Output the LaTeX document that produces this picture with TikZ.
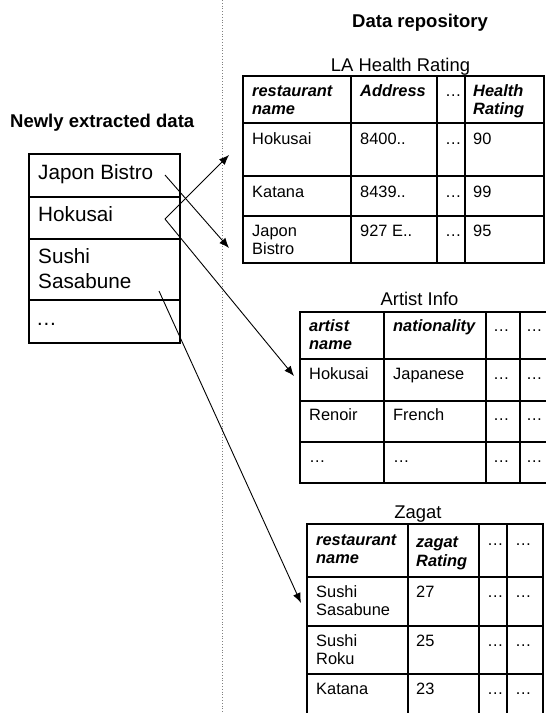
\documentclass[tikz,border=0pt]{standalone}
\usepackage{fontspec}
\setmainfont{Liberation Sans}
\usetikzlibrary{arrows.meta}
\begin{document}
\begin{tikzpicture}[x=1pt,y=-1pt,
  thickborder/.style={line width=2.8pt},
  gridline/.style={line width=1.3pt},
  cell/.style={inner sep=0pt, anchor=base west, align=left, font=\fontsize{16.4}{18.4}\selectfont},
  hcell/.style={cell, font=\fontsize{16.4}{18.4}\selectfont\bfseries\itshape},
  boxtext/.style={inner sep=0pt, anchor=base west, align=left, font=\fontsize{20.7}{25}\selectfont},
  tabtitle/.style={inner sep=0pt, anchor=base, font=\fontsize{18.4}{22}\selectfont},
  btitle/.style={inner sep=0pt, anchor=base west, font=\fontsize{18.5}{22}\selectfont\bfseries},
  link/.style={line width=0.9pt, -{Latex[length=10pt,width=8pt]}},
  sep/.style={gray, dotted, line width=0.8pt},
]
\useasboundingbox (0,0) rectangle (546,713);
\clip (0,0) rectangle (546,713);

% separator
\draw[sep] (222,0) -- (222,713);

% titles
\node[btitle] (newtitle) at (10,127) {Newly extracted data};
\node[btitle] (repotitle) at (352,27) {Data repository};
\node[tabtitle] (latitle) at (400.5,71) {LA Health Rating};
\node[tabtitle] (aititle) at (419.5,305) {Artist Info};
\node[tabtitle] (zgtitle) at (418,518) {Zagat};

% left box
\draw[gridline] (29,197) -- (180,197);
\draw[gridline] (29,239) -- (180,239);
\draw[gridline] (29,300) -- (180,300);
\draw[thickborder] (29,154) rectangle (180,343);
\node[boxtext] (jb) at (38,179) {Japon Bistro};
\node[boxtext] (hk) at (38,221) {Hokusai};
\node[boxtext] (ss) at (38,288) {Sushi\\Sasabune};
\node[boxtext] (etc) at (36,325) {…};

% LA Health Rating table (multi-line nodes are placed at the baseline of their last line)
\foreach \x in {351,437,465} \draw[gridline] (\x,76) -- (\x,263);
\foreach \y in {123,176,216} \draw[gridline] (243,\y) -- (544,\y);
\draw[thickborder] (243,76) rectangle (544,263);
\node[hcell] (la11) at (252,114.4) {restaurant\\name};
\node[hcell] (la12) at (360,96) {Address};
\node[cell]  (la13) at (445,96) {…};
\node[hcell] (la14) at (473,114.4) {Health\\Rating};
\node[cell] (la21) at (252,144) {Hokusai};
\node[cell] (la22) at (360,144) {8400..};
\node[cell] (la23) at (445,144) {…};
\node[cell] (la24) at (473,144) {90};
\node[cell] (la31) at (252,197) {Katana};
\node[cell] (la32) at (360,197) {8439..};
\node[cell] (la33) at (445,197) {…};
\node[cell] (la34) at (473,197) {99};
\node[cell] (la41) at (252,254.4) {Japon\\Bistro};
\node[cell] (la42) at (360,236) {927 E..};
\node[cell] (la43) at (445,236) {…};
\node[cell] (la44) at (473,236) {95};

% Artist Info table
\foreach \x in {384,486,520} \draw[gridline] (\x,312) -- (\x,483);
\foreach \y in {359,401,442} \draw[gridline] (300,\y) -- (560,\y);
\draw[thickborder] (300,312) rectangle (560,483);
\node[hcell] (ai11) at (309,349.6) {artist\\name};
\node[hcell] (ai12) at (393,331) {nationality};
\node[cell]  (ai13) at (493,331) {…};
\node[cell]  (ai14) at (526,331) {…};
\node[cell] (ai21) at (309,379) {Hokusai};
\node[cell] (ai22) at (393,379) {Japanese};
\node[cell] (ai23) at (493,379) {…};
\node[cell] (ai24) at (526,379) {…};
\node[cell] (ai31) at (309,420) {Renoir};
\node[cell] (ai32) at (393,420) {French};
\node[cell] (ai33) at (493,420) {…};
\node[cell] (ai34) at (526,420) {…};
\node[cell] (ai41) at (309,462) {…};
\node[cell] (ai42) at (393,462) {…};
\node[cell] (ai43) at (493,462) {…};
\node[cell] (ai44) at (526,462) {…};

% Zagat table
\foreach \x in {408,479,507} \draw[gridline] (\x,524) -- (\x,730);
\foreach \y in {577,626,674} \draw[gridline] (307,\y) -- (543,\y);
\draw[thickborder] (307,524) rectangle (543,730);
\node[hcell] (zg11) at (316,563.4) {restaurant\\name};
\node[hcell] (zg12) at (416,566) {zagat\\Rating};
\node[cell]  (zg13) at (487,545) {…};
\node[cell]  (zg14) at (515,545) {…};
\node[cell] (zg21) at (316,615.4) {Sushi\\Sasabune};
\node[cell] (zg22) at (416,597) {27};
\node[cell] (zg23) at (487,597) {…};
\node[cell] (zg24) at (515,597) {…};
\node[cell] (zg31) at (316,664.4) {Sushi\\Roku};
\node[cell] (zg32) at (416,646) {25};
\node[cell] (zg33) at (487,646) {…};
\node[cell] (zg34) at (515,646) {…};
\node[cell] (zg41) at (316,694) {Katana};
\node[cell] (zg42) at (416,694) {23};
\node[cell] (zg43) at (487,694) {…};
\node[cell] (zg44) at (515,694) {…};

% connectors
\coordinate (jbsrc) at (165,175);
\coordinate (hksrc) at (165,219);
\coordinate (sssrc) at (159,291);
\coordinate (laHk) at (229,155);
\coordinate (laJb) at (229,248);
\coordinate (aiHk) at (294,376);
\coordinate (zgSs) at (301,603);
\draw[link] (jbsrc) -- (laJb);
\draw[link] (hksrc) -- (laHk);
\draw[link] (hksrc) -- (aiHk);
\draw[link] (sssrc) -- (zgSs);
\end{tikzpicture}
\end{document}
